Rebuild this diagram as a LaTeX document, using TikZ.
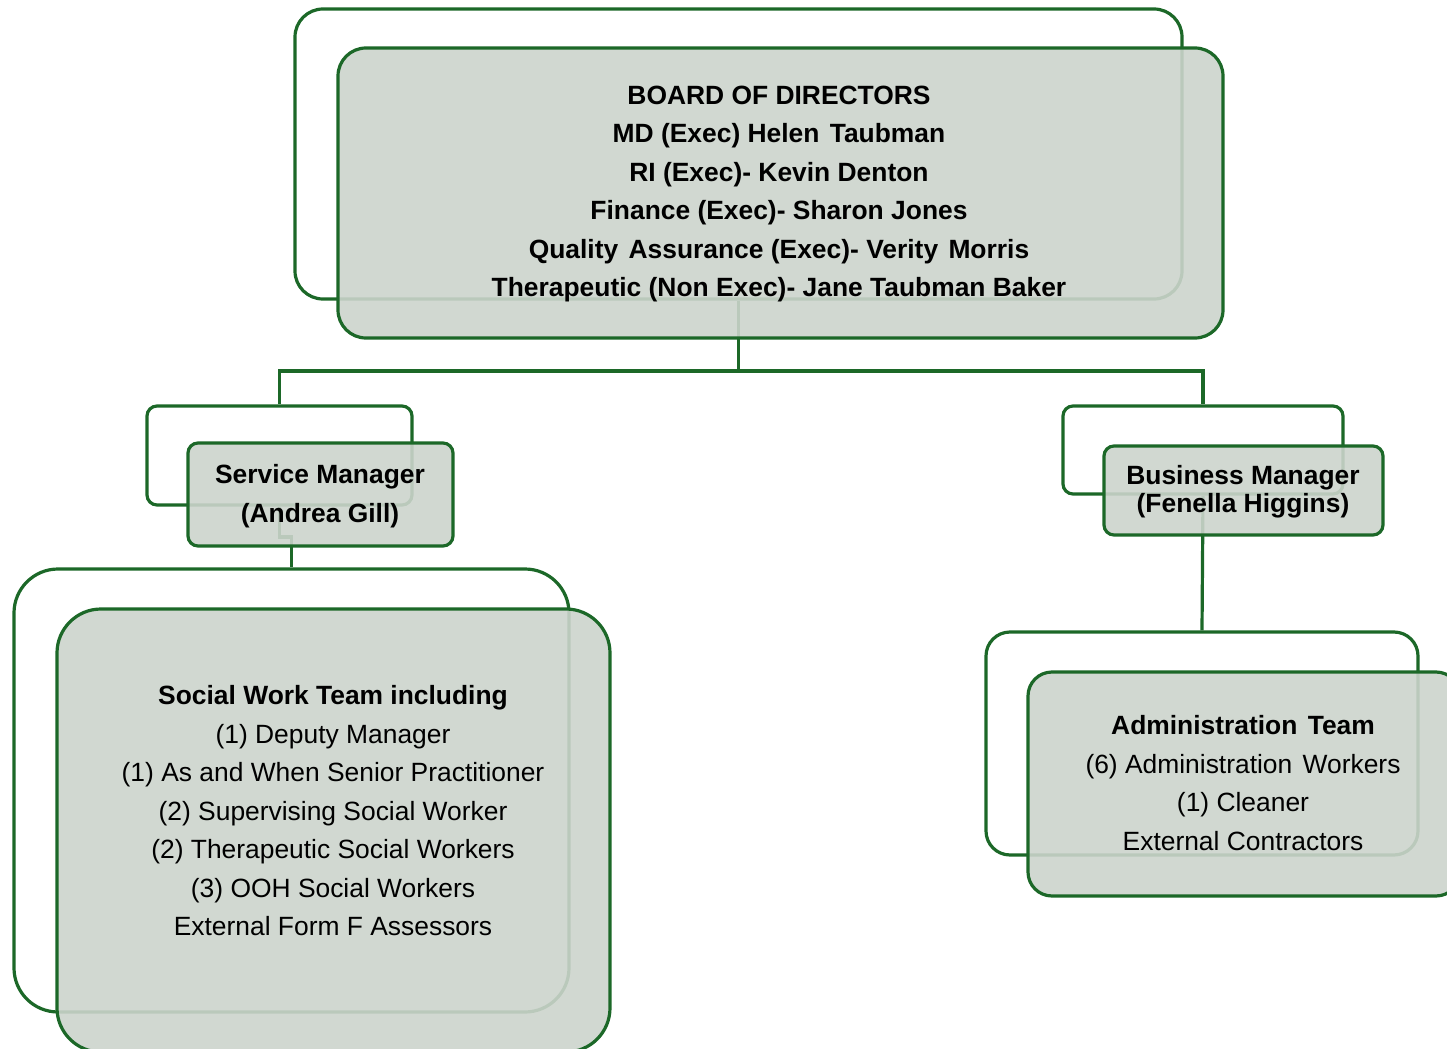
\documentclass[tikz,border=0pt]{standalone}
\usepackage{fontspec}
\setmainfont{Liberation Sans}
\usetikzlibrary{fit}
\definecolor{dgreen}{RGB}{28,104,40}
\definecolor{boxfill}{RGB}{204,212,204}
\newcommand{\wsp}{\ \hspace{1.5pt}}
\tikzset{
  backbox/.style={draw=dgreen, line width=1.6pt, fill=white, inner sep=0pt},
  frontbox/.style={draw=dgreen, line width=1.6pt, fill=boxfill, fill opacity=0.9, inner sep=0pt},
  conn/.style={draw=dgreen, line width=1.6pt},
  txt/.style={align=center, text=black, font=\fontsize{13.2}{19.25}\selectfont, inner sep=0pt},
}
\begin{document}
\begin{tikzpicture}[x=0.5pt,y=-0.5pt]
\useasboundingbox (0,0) rectangle (1447,1049);
\clip (0,0) rectangle (1447,1049);
% back boxes
\node[backbox, rounded corners=14pt, fit={(295,9) (1182,299)}] (bB) {};
\node[backbox, rounded corners=5pt, fit={(147,406) (412,505)}] (smB) {};
\node[backbox, rounded corners=5pt, fit={(1063,406) (1343,494)}] (bmB) {};
\node[backbox, rounded corners=22pt, fit={(14,569) (569,1012)}] (swB) {};
\node[backbox, rounded corners=12pt, fit={(986,632) (1418,855)}] (adB) {};
% connectors
\coordinate (hl) at (0,371);
\coordinate (ej) at (0,537);
\draw[conn] (bB.south) -- (bB.south |- hl) -| (smB.north);
\draw[conn] (bB.south |- hl) -| (bmB.north);
\draw[conn] (smB.south) -- (smB.south |- ej) -| (swB.north);
\draw[conn] (bmB.south) -- (adB.north);
% front boxes
\node[frontbox, rounded corners=14pt, fit={(338,48) (1223,338)}] (bF) {};
\node[frontbox, rounded corners=5pt, fit={(188,443) (453,546)}] (smF) {};
\node[frontbox, rounded corners=5pt, fit={(1104,446) (1383,535)}] (bmF) {};
\node[frontbox, rounded corners=22pt, fit={(57,609) (610,1052)}] (swF) {};
\node[frontbox, rounded corners=12pt, fit={(1028,672) (1460,896)}] (adF) {};
% texts
\node[txt, font=\fontsize{13.2}{19.25}\selectfont\bfseries] (bT) at (779,194)
  {BOARD OF DIRECTORS\\MD (Exec) Helen\wsp Taubman\\RI (Exec)- Kevin Denton\\Finance (Exec)- Sharon Jones\\Quality\wsp Assurance (Exec)- Verity\wsp Morris\\Therapeutic (Non Exec)- Jane Taubman Baker};
\node[txt, font=\fontsize{13.2}{19.25}\selectfont\bfseries] (smT) at (320,496)
  {Service Manager\\(Andrea Gill)};
\node[txt, font=\fontsize{13.2}{14}\selectfont\bfseries] (bmT) at (1243,492)
  {Business Manager\\(Fenella Higgins)};
\node[txt] (swT) at (333,811)
  {\textbf{Social Work Team including}\\(1) Deputy Manager\\(1) As and When Senior Practitioner\\(2) Supervising Social Worker\\(2) Therapeutic Social Workers\\(3) OOH Social Workers\\External Form F Assessors};
\node[txt] (adT) at (1243,783)
  {\textbf{Administration\wsp Team}\\(6) Administration\wsp Workers\\(1) Cleaner\\External Contractors};
\end{tikzpicture}
\end{document}
